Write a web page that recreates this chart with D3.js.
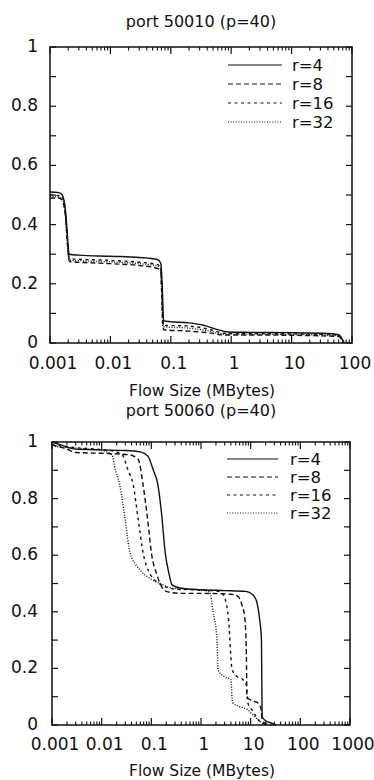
<!DOCTYPE html>
<html>
<head>
<meta charset="utf-8">
<script src="https://cdn.jsdelivr.net/npm/d3@7"></script>
<style>
  body { margin: 0; background: #fff; }
  text { font-family: "DejaVu Sans", sans-serif; fill: #111; }
</style>
</head>
<body>
<div id="chart"></div>
<script>
// series names and line styles (legend order)
const seriesNames = ["r=4", "r=8", "r=16", "r=32"];
const dashes = [null, "5,3", "3,3.5", "1,1.6"];

const yTicks = [0, 0.2, 0.4, 0.6, 0.8, 1];
const xTicks1 = [0.001, 0.01, 0.1, 1, 10, 100];
const xTickLabels1 = ["0.001", "0.01", "0.1", "1", "10", "100"];
const xTicks2 = [0.001, 0.01, 0.1, 1, 10, 100, 1000];
const xTickLabels2 = ["0.001", "0.01", "0.1", "1", "10", "100", "1000"];

// port 50010 (p=40) : [flow size MB, fraction]
const p1_r4 = [[0.001,0.51],[0.0014,0.508],[0.0016,0.50],[0.0018,0.45],[0.0021,0.30],[0.003,0.297],[0.01,0.293],[0.03,0.289],[0.06,0.282],[0.068,0.27],[0.072,0.2],[0.076,0.075],[0.1,0.072],[0.2,0.068],[0.35,0.06],[0.6,0.045],[0.9,0.037],[2,0.036],[10,0.035],[40,0.032],[60,0.028],[70,0.01],[75,0]];
const p1_r8 = [[0.001,0.49],[0.0014,0.49],[0.0016,0.482],[0.0018,0.43],[0.0021,0.275],[0.01,0.268],[0.03,0.262],[0.06,0.252],[0.068,0.24],[0.072,0.15],[0.076,0.045],[0.2,0.04],[0.4,0.035],[0.8,0.027],[2,0.027],[10,0.026],[60,0.022],[72,0]];
const p1_r16 = [[0.001,0.50],[0.0015,0.497],[0.0017,0.48],[0.0021,0.285],[0.01,0.279],[0.03,0.273],[0.06,0.265],[0.068,0.255],[0.074,0.06],[0.2,0.057],[0.4,0.048],[0.8,0.033],[2,0.032],[10,0.031],[60,0.027],[72,0]];
const p1_r32 = [[0.001,0.495],[0.0015,0.492],[0.0017,0.475],[0.0021,0.28],[0.01,0.274],[0.03,0.268],[0.06,0.26],[0.068,0.25],[0.074,0.055],[0.2,0.05],[0.4,0.042],[0.8,0.03],[2,0.03],[10,0.029],[60,0.025],[72,0]];

// port 50060 (p=40)
const p2_r4 = [[0.001,1.0],[0.0015,0.99],[0.003,0.975],[0.01,0.972],[0.03,0.97],[0.06,0.965],[0.085,0.95],[0.11,0.9],[0.135,0.85],[0.16,0.75],[0.19,0.61],[0.23,0.53],[0.26,0.495],[0.4,0.483],[1,0.478],[3,0.475],[8,0.472],[11,0.46],[13,0.44],[15,0.38],[16.5,0.3],[17,0.03],[20,0.015],[25,0.008],[32,0]];
const p2_r8 = [[0.001,0.99],[0.002,0.975],[0.003,0.963],[0.01,0.96],[0.035,0.955],[0.054,0.94],[0.068,0.85],[0.085,0.72],[0.1,0.61],[0.13,0.53],[0.16,0.49],[0.2,0.472],[0.4,0.465],[1,0.465],[4,0.462],[5.5,0.455],[6.5,0.43],[7.6,0.38],[8.2,0.25],[8.4,0.1],[10,0.088],[14,0.078],[16,0.06],[17,0.02],[20,0.005],[26,0]];
const p2_r16 = [[0.001,0.99],[0.003,0.98],[0.01,0.973],[0.02,0.965],[0.026,0.955],[0.034,0.9],[0.043,0.85],[0.055,0.72],[0.068,0.61],[0.09,0.54],[0.12,0.51],[0.16,0.495],[0.3,0.48],[1,0.477],[2.4,0.472],[3,0.45],[3.6,0.37],[4.2,0.2],[5,0.175],[7,0.16],[8.2,0.14],[8.7,0.08],[11,0.05],[14,0.02],[18,0.005],[22,0]];
const p2_r32 = [[0.001,0.985],[0.003,0.978],[0.01,0.97],[0.016,0.955],[0.019,0.9],[0.023,0.85],[0.03,0.72],[0.037,0.61],[0.058,0.55],[0.1,0.515],[0.15,0.5],[0.3,0.482],[1,0.477],[1.5,0.47],[1.75,0.40],[2.1,0.3],[2.2,0.195],[3,0.17],[4,0.16],[4.3,0.08],[6,0.065],[8.5,0.055],[12,0.03],[16,0.01],[20,0]];

const svg = d3.select("#chart").append("svg")
    .attr("width", 374)
    .attr("height", 780);

function drawPanel(cfg) {
    var x = d3.scaleLog().domain(cfg.xDomain).range([cfg.left, cfg.right]);
    var y = d3.scaleLinear().domain([0, 1]).range([cfg.bottom, cfg.top]);
    var g = svg.append("g");

    // title
    g.append("text")
        .attr("x", 201).attr("y", cfg.titleY)
        .attr("text-anchor", "middle")
        .style("font-size", "16px")
        .text(cfg.title);

    // x axis label
    g.append("text")
        .attr("x", 202).attr("y", cfg.xLabelY)
        .attr("text-anchor", "middle")
        .style("font-size", "15.5px")
        .text("Flow Size (MBytes)");

    // ticks: y every 0.1 (inward, both sides)
    var yMinor = d3.range(0, 11).map(function(i) { return i / 10; });
    yMinor.forEach(function(v) {
        g.append("line").attr("x1", cfg.left).attr("x2", cfg.left + 6)
            .attr("y1", y(v)).attr("y2", y(v)).attr("stroke", "#111").attr("stroke-width", 1.2);
        g.append("line").attr("x1", cfg.right).attr("x2", cfg.right - 6)
            .attr("y1", y(v)).attr("y2", y(v)).attr("stroke", "#111").attr("stroke-width", 1.2);
    });
    g.selectAll(".ylab").data(yTicks).enter().append("text")
        .attr("x", 38).attr("y", function(d) { return y(d) + 5; })
        .attr("text-anchor", "end")
        .style("font-size", "17px")
        .text(function(d) { return d3.format("")(d); });

    // x log ticks, top and bottom
    var ticks = cfg.xTicks;
    ticks.forEach(function(t, i) {
        [cfg.bottom, cfg.top].forEach(function(edge) {
            var dir = edge === cfg.bottom ? -1 : 1;
            g.append("line").attr("x1", x(t)).attr("x2", x(t))
                .attr("y1", edge).attr("y2", edge + dir * 7)
                .attr("stroke", "#111").attr("stroke-width", 1.2);
            if (i < ticks.length - 1) {
                for (var k = 2; k < 10; k++) {
                    g.append("line").attr("x1", x(t * k)).attr("x2", x(t * k))
                        .attr("y1", edge).attr("y2", edge + dir * 3.5)
                        .attr("stroke", "#111").attr("stroke-width", 1.1);
                }
            }
        });
    });
    g.selectAll(".xlab").data(ticks).enter().append("text")
        .attr("x", function(d) { return x(d) + 3; })
        .attr("y", cfg.xTickY)
        .attr("text-anchor", "middle")
        .style("font-size", "17px")
        .text(function(d, i) { return cfg.xTickLabels[i]; });

    // curves
    var line = d3.line()
        .x(function(d) { return x(d[0]); })
        .y(function(d) { return y(d[1]); })
        .curve(d3.curveMonotoneX);
    cfg.series.forEach(function(s, i) {
        g.append("path")
            .attr("d", line(s))
            .attr("fill", "none")
            .attr("stroke", "#111")
            .attr("stroke-width", 1.4)
            .attr("stroke-dasharray", dashes[i]);
    });

    // frame
    g.append("rect")
        .attr("x", cfg.left).attr("y", cfg.top)
        .attr("width", cfg.right - cfg.left).attr("height", cfg.bottom - cfg.top)
        .attr("fill", "none").attr("stroke", "#111").attr("stroke-width", 1.5);

    // legend
    seriesNames.forEach(function(name, i) {
        var ly = cfg.legendY + i * cfg.legendStep;
        g.append("line")
            .attr("x1", cfg.legendX1).attr("x2", cfg.legendX2)
            .attr("y1", ly).attr("y2", ly)
            .attr("stroke", "#111").attr("stroke-width", 1.2)
            .attr("stroke-dasharray", dashes[i]);
        g.append("text")
            .attr("x", cfg.legendTextX).attr("y", ly + 6)
            .style("font-size", "16.5px")
            .text(name);
    });
}

drawPanel({
    title: "port 50010 (p=40)", titleY: 27, xLabelY: 396, xTickY: 369,
    left: 50, right: 352, top: 47, bottom: 343,
    xDomain: [0.001, 100], xTicks: xTicks1, xTickLabels: xTickLabels1,
    series: [p1_r4, p1_r8, p1_r16, p1_r32],
    legendX1: 228, legendX2: 282, legendTextX: 292, legendY: 65, legendStep: 19
});

drawPanel({
    title: "port 50060 (p=40)", titleY: 416, xLabelY: 776, xTickY: 750,
    left: 52, right: 350, top: 442, bottom: 725,
    xDomain: [0.001, 1000], xTicks: xTicks2, xTickLabels: xTickLabels2,
    series: [p2_r4, p2_r8, p2_r16, p2_r32],
    legendX1: 227, legendX2: 278, legendTextX: 290, legendY: 459, legendStep: 18
});
</script>
</body>
</html>
